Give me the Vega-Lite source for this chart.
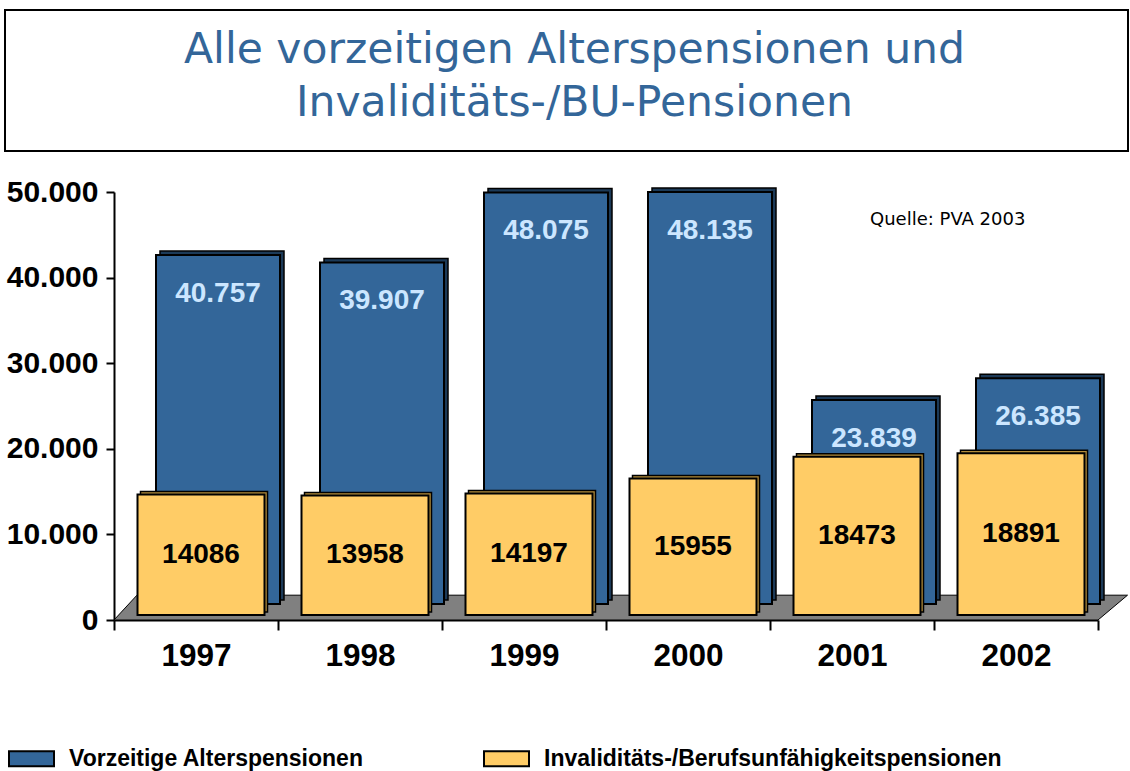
{
  "$schema": "https://vega.github.io/schema/vega-lite/v6.json",
  "padding": {"left": 4, "top": 9, "right": 0, "bottom": 0},
  "background": "white",
  "config": {
    "font": "Liberation Sans",
    "view": {"stroke": null},
    "locale": {"number": {"decimal": ",", "thousands": ".", "grouping": [3], "currency": ["", " €"]}}
  },
  "datasets": {
    "pens": [
      {"year": "1997", "series": "Vorzeitige Alterspensionen", "value": 40757},
      {"year": "1998", "series": "Vorzeitige Alterspensionen", "value": 39907},
      {"year": "1999", "series": "Vorzeitige Alterspensionen", "value": 48075},
      {"year": "2000", "series": "Vorzeitige Alterspensionen", "value": 48135},
      {"year": "2001", "series": "Vorzeitige Alterspensionen", "value": 23839},
      {"year": "2002", "series": "Vorzeitige Alterspensionen", "value": 26385},
      {"year": "1997", "series": "Invaliditäts-/Berufsunfähigkeitspensionen", "value": 14086},
      {"year": "1998", "series": "Invaliditäts-/Berufsunfähigkeitspensionen", "value": 13958},
      {"year": "1999", "series": "Invaliditäts-/Berufsunfähigkeitspensionen", "value": 14197},
      {"year": "2000", "series": "Invaliditäts-/Berufsunfähigkeitspensionen", "value": 15955},
      {"year": "2001", "series": "Invaliditäts-/Berufsunfähigkeitspensionen", "value": 18473},
      {"year": "2002", "series": "Invaliditäts-/Berufsunfähigkeitspensionen", "value": 18891}
    ],
    "floor": [
      {"fx": 0, "lo": 0, "hi": 0},
      {"fx": 0.14, "lo": 0, "hi": 2900},
      {"fx": 6, "lo": 0, "hi": 2900},
      {"fx": 6.18, "lo": 2900, "hi": 2900}
    ],
    "note": [{"fx": 4.61, "yv": 46730, "label": "Quelle: PVA 2003"}],
    "head": [{"t": "Alle vorzeitigen Alterspensionen und\nInvaliditäts-/BU-Pensionen"}]
  },
  "spacing": 25,
  "resolve": {"scale": {"color": "independent"}},
  "vconcat": [
    {
      "width": 1123,
      "height": 141,
      "view": {"stroke": "black", "strokeWidth": 2},
      "data": {"name": "head"},
      "mark": {"type": "text", "font": "DejaVu Sans", "fontSize": 42.5, "color": "#336699", "lineBreak": "\n", "lineHeight": 53, "baseline": "middle", "align": "center", "yOffset": -31, "xOffset": 8},
      "encoding": {"text": {"field": "t"}}
    },
    {
      "width": 1093,
      "height": 428,
      "resolve": {"scale": {"x": "independent", "y": "independent"}},
      "layer": [
        {
          "encoding": {
            "x": {"field": "fx", "type": "quantitative", "scale": {"domain": [0, 6], "range": [109, 1093], "nice": false, "zero": false}, "axis": null},
            "y": {"field": "yv", "type": "quantitative", "scale": {"domain": [0, 50000], "nice": false}, "axis": null}
          },
          "layer": [
            {
              "data": {"name": "floor"},
              "mark": {"type": "area", "color": "#808080", "stroke": "black", "strokeWidth": 1, "opacity": 1},
              "encoding": {
                "x": {"field": "fx", "type": "quantitative"},
                "y": {"field": "hi", "type": "quantitative"},
                "y2": {"field": "lo"}
              }
            },
            {
              "data": {"name": "note"},
              "mark": {"type": "text", "font": "DejaVu Sans", "fontSize": 18, "align": "left", "baseline": "middle", "color": "black"},
              "encoding": {
                "text": {"field": "label"}
              }
            }
          ]
        },
        {
          "data": {"name": "pens"},
          "encoding": {
            "x": {
              "field": "year", "type": "nominal",
              "scale": {"paddingInner": 0, "paddingOuter": 0, "range": [109, 1093]},
              "axis": {"title": null, "labelAngle": 0, "labelFontSize": 31.5, "labelFontWeight": "bold", "labelColor": "black", "labelPadding": 10, "tickSize": 10, "tickBand": "extent", "tickColor": "black", "tickWidth": 2, "domainColor": "black", "domainWidth": 2}
            },
            "y": {
              "field": "value", "type": "quantitative",
              "scale": {"domain": [0, 50000], "nice": false},
              "axis": {"title": null, "offset": -109, "values": [0, 10000, 20000, 30000, 40000, 50000], "format": ",d", "grid": false, "labelFontSize": 30, "labelFontWeight": "bold", "labelColor": "black", "labelPadding": 8, "tickSize": 8, "tickColor": "black", "tickWidth": 2, "domainColor": "black", "domainWidth": 2, "minExtent": 0, "maxExtent": 0}
            }
          },
          "layer": [
            {
              "transform": [{"filter": "datum.series === 'Vorzeitige Alterspensionen'"}],
              "mark": {"type": "bar", "size": 124, "xOffset": 26, "x2Offset": 26, "yOffset": -20, "y2Offset": -20, "color": "#1c3a58", "stroke": "black", "strokeWidth": 1.5}
            },
            {
              "transform": [{"filter": "datum.series === 'Vorzeitige Alterspensionen'"}],
              "mark": {"type": "bar", "size": 124, "xOffset": 22, "x2Offset": 22, "yOffset": -16, "y2Offset": -16, "stroke": "black", "strokeWidth": 2, "opacity": 1},
              "encoding": {
                "color": {
                  "field": "series", "type": "nominal",
                  "scale": {"domain": ["Vorzeitige Alterspensionen", "Invaliditäts-/Berufsunfähigkeitspensionen"], "range": ["#336699", "#ffcc66"]},
                  "legend": {"orient": "none", "legendX": 3, "legendY": 543, "direction": "horizontal", "title": null, "symbolType": "M-1,-0.333H1V0.333H-1Z", "symbolSize": 2025, "symbolStrokeColor": "black", "symbolStrokeWidth": 2, "symbolOpacity": 1, "labelFontSize": 23, "labelFont": "Liberation Sans", "labelFontWeight": "bold", "labelColor": "black", "labelLimit": 700, "columnPadding": 116, "labelOffset": 14}
                }
              }
            },
            {
              "transform": [{"filter": "datum.series === 'Vorzeitige Alterspensionen'"}],
              "mark": {"type": "text", "xOffset": 22, "yOffset": 23, "fontSize": 28, "fontWeight": "bold", "color": "#cce6ff", "baseline": "middle"},
              "encoding": {"text": {"field": "value", "type": "quantitative", "format": ",d"}}
            },
            {
              "transform": [{"filter": "datum.series !== 'Vorzeitige Alterspensionen'"}],
              "mark": {"type": "bar", "size": 127, "xOffset": 8, "x2Offset": 8, "yOffset": -8, "y2Offset": -8, "color": "#b38c3a", "stroke": "black", "strokeWidth": 1.5}
            },
            {
              "transform": [{"filter": "datum.series !== 'Vorzeitige Alterspensionen'"}],
              "mark": {"type": "bar", "size": 127, "xOffset": 5, "x2Offset": 5, "yOffset": -5, "y2Offset": -5, "stroke": "black", "strokeWidth": 2, "opacity": 1},
              "encoding": {
                "color": {"field": "series", "type": "nominal"}
              }
            }
          ]
        },
        {
          "data": {"name": "pens"},
          "transform": [{"filter": "datum.series !== 'Vorzeitige Alterspensionen'"}],
          "mark": {"type": "text", "xOffset": 5, "yOffset": -5, "fontSize": 28, "fontWeight": "bold", "color": "black", "baseline": "middle"},
          "encoding": {
            "x": {"field": "year", "type": "nominal", "scale": {"paddingInner": 0, "paddingOuter": 0, "range": [109, 1093]}, "axis": null},
            "y": {"field": "value", "type": "quantitative", "scale": {"domain": [0, 100000], "nice": false}, "axis": null},
            "text": {"field": "value", "type": "quantitative", "format": "d"}
          }
        }
      ]
    }
  ]
}
